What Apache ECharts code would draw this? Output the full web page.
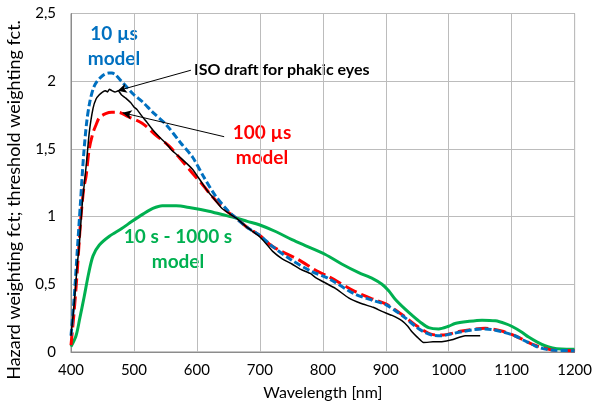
<!DOCTYPE html>
<html>
<head>
<meta charset="utf-8">
<script src="https://cdn.jsdelivr.net/npm/echarts@6/dist/echarts.min.js"></script>
<style>html,body{margin:0;padding:0;background:#fff;}#c{width:595px;height:406px;}</style>
</head>
<body>
<div id="c"></div>
<script>
var xTicks = [400, 500, 600, 700, 800, 900, 1000, 1100, 1200];
var yTicks = [0, 0.5, 1, 1.5, 2, 2.5];

var isoDraft = [[400,0.12],[405,0.35],[410,0.65],[413,0.78],[418,1.1],[424,1.37],[429,1.62],[435,1.8],[440,1.87],[445,1.9],[450,1.92],[455,1.93],[458,1.92],[461,1.94],[465,1.93],[470,1.92],[475,1.93],[480,1.9],[487,1.875],[495,1.84],[500,1.81],[505,1.79],[513,1.74],[520,1.7],[530,1.64],[540,1.59],[551,1.54],[560,1.49],[575,1.43],[593,1.35],[605,1.27],[615,1.2],[624,1.15],[640,1.06],[662,0.99],[680,0.92],[699,0.855],[710,0.8],[720,0.745],[735,0.69],[751,0.65],[765,0.61],[780,0.58],[790,0.545],[804,0.51],[820,0.47],[841,0.4],[860,0.36],[880,0.33],[894,0.3],[910,0.27],[926,0.23],[935,0.19],[942,0.147],[950,0.11],[960,0.07],[975,0.075],[989,0.076],[1005,0.09],[1026,0.12],[1050,0.12]];

var model10us = [[400,0.12],[405,0.4],[410,0.75],[415,1.1],[420,1.45],[425,1.7],[430,1.85],[435,1.94],[440,1.99],[450,2.04],[460,2.06],[465,2.06],[470,2.05],[480,2.0],[490,1.95],[500,1.9],[513,1.85],[530,1.77],[551,1.68],[575,1.54],[593,1.44],[610,1.3],[630,1.15],[650,1.04],[662,0.99],[680,0.92],[700,0.86],[720,0.78],[750,0.68],[780,0.6],[810,0.54],[850,0.43],[880,0.38],[900,0.35],[926,0.27],[947,0.19],[960,0.15],[973,0.125],[989,0.12],[1000,0.13],[1021,0.15],[1040,0.165],[1058,0.17],[1070,0.165],[1084,0.15],[1105,0.12],[1120,0.085],[1137,0.046],[1150,0.025],[1169,0.012],[1200,0.01]];

var model100us = [[400,0.05],[405,0.3],[410,0.6],[415,0.95],[420,1.2],[424,1.3],[429,1.5],[435,1.62],[440,1.68],[445,1.73],[455,1.76],[465,1.77],[475,1.77],[490,1.74],[513,1.69],[535,1.6],[556,1.52],[575,1.42],[593,1.32],[610,1.23],[624,1.15],[645,1.05],[662,0.99],[680,0.92],[700,0.86],[720,0.78],[762,0.68],[790,0.6],[810,0.555],[850,0.45],[880,0.39],[900,0.355],[926,0.275],[947,0.2],[973,0.13],[989,0.125],[1021,0.155],[1058,0.175],[1084,0.155],[1105,0.12],[1137,0.05],[1169,0.012],[1200,0.01]];

var model10s = [[400,0.04],[408,0.12],[414,0.25],[421,0.41],[428,0.58],[435,0.71],[445,0.79],[461,0.855],[480,0.91],[497,0.965],[515,1.02],[530,1.06],[545,1.08],[567,1.08],[590,1.065],[619,1.04],[640,1.015],[662,0.99],[680,0.965],[699,0.94],[725,0.89],[751,0.83],[775,0.78],[804,0.72],[830,0.65],[857,0.586],[880,0.54],[894,0.5],[905,0.45],[915,0.39],[930,0.32],[942,0.27],[955,0.22],[968,0.18],[984,0.17],[1000,0.19],[1010,0.21],[1030,0.225],[1053,0.235],[1074,0.23],[1090,0.21],[1100,0.19],[1115,0.15],[1127,0.11],[1140,0.075],[1153,0.046],[1165,0.03],[1179,0.022],[1200,0.02]];

var arrowIso = [[590.5, 2.081], [474.2, 1.93]];
var arrow100 = [[643.3, 1.59], [482, 1.767]];

var FONT = 'Lato';
var chart = echarts.init(document.getElementById('c'), null, {renderer: 'canvas'});
chart.setOption({
  animation: false,
  backgroundColor: '#fff',
  grid: {left: 71, right: 18.5, top: 13.5, bottom: 53, show: true, borderColor: '#8c8c8c', borderWidth: 1},
  xAxis: {
    type: 'value', min: xTicks[0], max: xTicks[xTicks.length - 1], interval: 100,
    name: 'Wavelength [nm]', nameLocation: 'middle', nameGap: 33,
    nameTextStyle: {fontFamily: FONT, fontSize: 16, color: '#000'},
    axisLine: {show: true, lineStyle: {color: '#8c8c8c'}},
    axisTick: {show: false},
    axisLabel: {fontFamily: FONT, fontSize: 15, color: '#000', margin: 11,
      formatter: function (v) { return String(v); }},
    splitLine: {show: true, lineStyle: {color: '#bcbcbc', width: 1}}
  },
  yAxis: {
    type: 'value', min: yTicks[0], max: yTicks[yTicks.length - 1], interval: 0.5,
    axisLine: {show: true, lineStyle: {color: '#8c8c8c'}},
    axisTick: {show: false},
    axisLabel: {fontFamily: FONT, fontSize: 15, color: '#000', margin: 15,
      formatter: function (v) { return String(v).replace('.', ','); }},
    splitLine: {show: true, lineStyle: {color: '#bcbcbc', width: 1}}
  },
  series: [
    {name: '10 s - 1000 s model', type: 'line', data: model10s, smooth: 0.3, showSymbol: false,
      lineStyle: {color: '#00B050', width: 3}, z: 2},
    {name: '100 µs model', type: 'line', data: model100us, smooth: 0.3, showSymbol: false,
      lineStyle: {color: '#FF0000', width: 3, type: [13, 5]}, z: 3},
    {name: '10 µs model', type: 'line', data: model10us, smooth: 0.3, showSymbol: false,
      lineStyle: {color: '#0070C0', width: 3, type: [7, 3]}, z: 4},
    {name: 'ISO draft for phakic eyes', type: 'line', data: isoDraft, smooth: 0.15, showSymbol: false,
      lineStyle: {color: '#000', width: 1.5}, z: 5,
      markLine: {silent: true, symbol: ['none', 'arrow'], symbolSize: [7, 9], label: {show: false},
        lineStyle: {color: '#000', width: 1, type: 'solid'},
        data: [[{coord: arrowIso[0]}, {coord: arrowIso[1]}], [{coord: arrow100[0]}, {coord: arrow100[1]}]]}}
  ],
  graphic: [
    {type: 'text', x: 14, y: 200, rotation: Math.PI / 2,
      style: {text: 'Hazard weighting fct; threshold weighting fct.', fill: '#000', font: '18px ' + FONT, textAlign: 'center', textVerticalAlign: 'middle'}},
    {type: 'text', x: 114, y: 21, style: {text: '10 µs\nmodel', fill: '#0070C0', font: 'bold 19px ' + FONT, textAlign: 'center', lineHeight: 25}},
    {type: 'text', x: 194, y: 62, style: {text: 'ISO draft for phakic eyes', fill: '#000', font: 'bold 16px ' + FONT}},
    {type: 'text', x: 262, y: 120, style: {text: '100 µs\nmodel', fill: '#FF0000', font: 'bold 19px ' + FONT, textAlign: 'center', lineHeight: 25}},
    {type: 'text', x: 178, y: 224, style: {text: '10 s - 1000 s\nmodel', fill: '#00B050', font: 'bold 19px ' + FONT, textAlign: 'center', lineHeight: 25}}
  ]
});
</script>
</body>
</html>
